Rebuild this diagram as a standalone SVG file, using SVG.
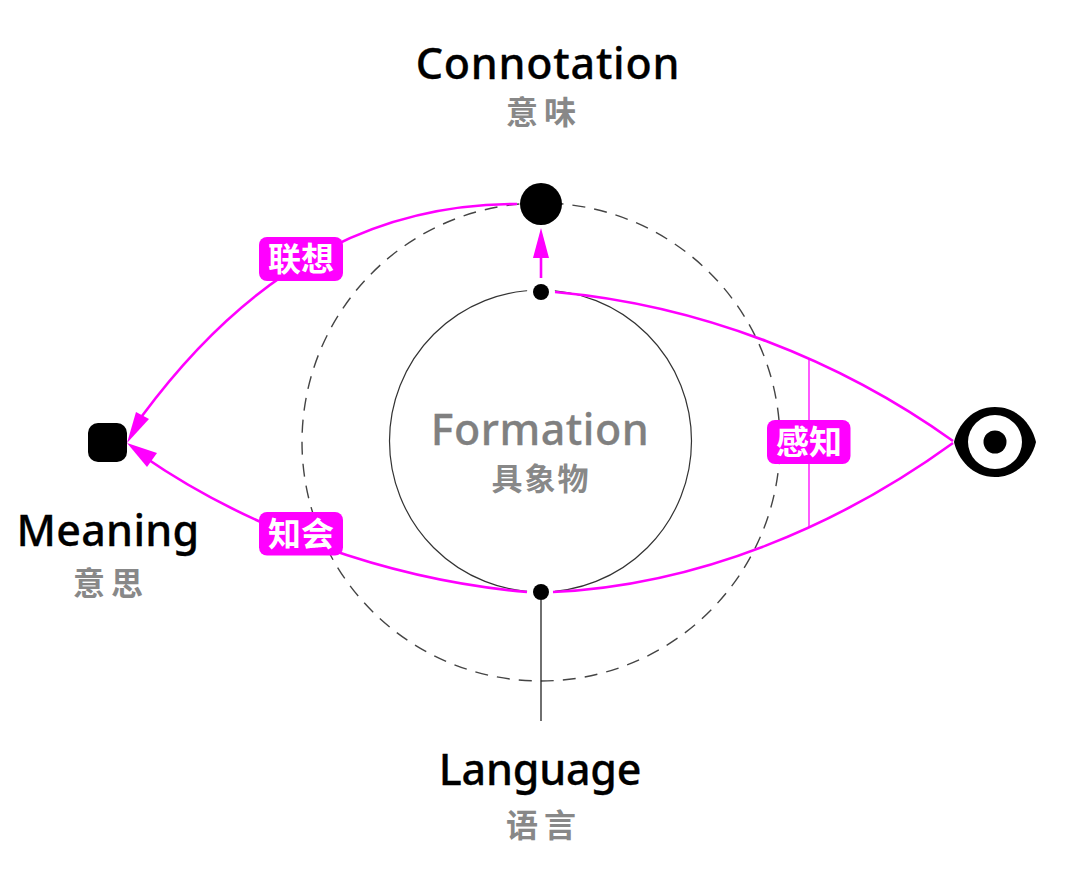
<svg xmlns="http://www.w3.org/2000/svg" width="1080" height="894" viewBox="0 0 1080 894">
<style>
text{text-anchor:middle}
.en{font-family:"Noto Sans","Open Sans",sans-serif;font-weight:500;font-size:43px;fill:#000;stroke:#000;stroke-width:.3}
.big{font-family:"Noto Sans","Open Sans",sans-serif;font-weight:500;font-size:43px;fill:#808080;stroke:#808080;stroke-width:.3;letter-spacing:.5px}
.cn{font-family:"Noto Sans CJK SC",sans-serif;font-weight:700;font-size:32px;fill:#888;letter-spacing:6px}
.tight{font-size:31px;letter-spacing:2px}
.lab{font-family:"Noto Sans CJK SC",sans-serif;font-weight:700;font-size:33px;fill:#fff}
.pink{fill:none;stroke:#f0f;stroke-width:2.6}
.tag{fill:#f0f}
.halo{fill:#fff}
</style>
<rect width="1080" height="894" fill="#fff"/>
<g id="circles" fill="none">
<circle cx="541" cy="442" r="239" stroke="#444" stroke-width="1.4" stroke-dasharray="13 9.08" stroke-dashoffset="-9.2"/>
<circle cx="540.500" cy="441" r="151" stroke="#333" stroke-width="1.2"/>
<circle class="halo" cx="541" cy="292" r="14"/>
<circle class="halo" cx="541" cy="592" r="14"/>
</g>
<g id="connectors">
<path d="M541 600V721" fill="none" stroke="#222" stroke-width="1.3"/>
<path class="pink" d="M517 204C395 204 265 250 142 416"/>
<path class="pink" d="M527 592C390 580 250 530 143 456"/>
<path class="pink" d="M555 292C700 305 840 360 953 441"/>
<path class="pink" d="M553 592C700 585 840 525 953 443"/>
<path d="M809 358V527" fill="none" stroke="#f0f" stroke-width="1.3"/>
<path class="pink" d="M541 278V255"/>
<path fill="#f0f" d="M541 228L549 258H533Z"/>
<path fill="#f0f" d="M127 443L136 412L149 419Z"/>
<path fill="#f0f" d="M127 443L157 453L147 467Z"/>
</g>
<g id="connotation"><circle cx="541" cy="204" r="21"/>
<text class="en" x="548" y="79" letter-spacing=".75">Connotation</text><text class="cn" x="544" y="124">意味</text></g>
<g id="dot-top"><circle cx="541" cy="292" r="8"/></g>
<g id="dot-bottom"><circle cx="541" cy="592" r="8"/></g>
<g id="formation"><text class="big" x="540" y="445">Formation</text><text class="cn tight" x="541" y="490">具象物</text></g>
<g id="meaning"><rect x="88" y="423" width="39" height="39" rx="10"/>
<text class="en" x="108" y="546" letter-spacing=".3">Meaning</text><text class="cn" x="111" y="595">意思</text></g>
<g id="language"><text class="en" x="540" y="785" letter-spacing="-.2">Language</text><text class="cn" x="544" y="837">语言</text></g>
<g id="eye"><path d="M954 442C958 425 972 407 995 407C1018 407 1032 425 1036 442C1032 459 1018 477 995 477C972 477 958 459 954 442Z"/>
<circle cx="995" cy="442" r="27" fill="#fff"/><circle cx="995" cy="442" r="11.5"/></g>
<g id="label-lianxiang"><rect class="tag" x="259" y="237" width="84" height="44" rx="8"/><text class="lab" x="301" y="271">联想</text></g>
<g id="label-zhihui"><rect class="tag" x="259" y="512" width="84" height="43.500" rx="8"/><text class="lab" x="301" y="546">知会</text></g>
<g id="label-ganzhi"><rect class="tag" x="767" y="420" width="83.500" height="44" rx="8"/><text class="lab" x="809" y="454">感知</text></g>
</svg>
